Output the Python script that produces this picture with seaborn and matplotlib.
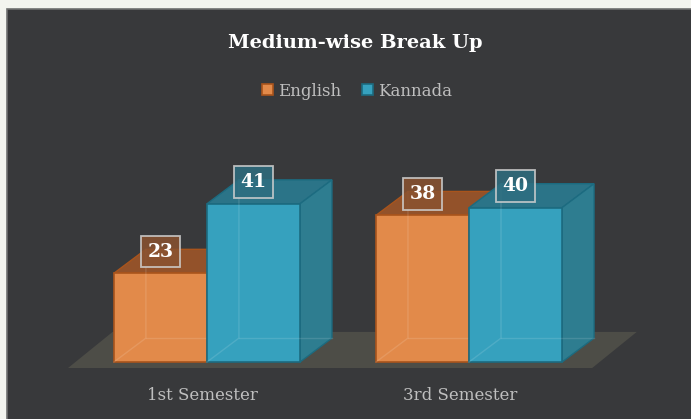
import numpy as np
import pandas as pd
import matplotlib
matplotlib.use("Agg")
import matplotlib.pyplot as plt
import matplotlib.transforms as mtrans
from matplotlib.patches import Polygon, Rectangle
import seaborn as sns

# data
semesters = ["1st Semester", "3rd Semester"]
english = [23, 38]
kannada = [41, 40]
mediums = ["English", "Kannada"]

df = pd.DataFrame({
    "semester": semesters * 2,
    "count": english + kannada,
    "medium": [mediums[0]] * 2 + [mediums[1]] * 2,
})

# colours: front, top, side, edge, label box
front_cols = ["#E28A4A", "#36A1BE"]
top_cols = ["#93522A", "#2B7488"]
side_cols = ["#B8652F", "#2E7D90"]
edge_cols = ["#A9541C", "#1C6B80"]
box_cols = ["#8A5230", "#2E6E80"]

bg = "#38393B"
fig = plt.figure(figsize=(6.91, 4.19), dpi=100, facecolor="#F3F4EF")
fig.patches.append(Rectangle((7 / 691, -0.01), 1.0, 1 - 9 / 419 + 0.01, transform=fig.transFigure,
                             facecolor=bg, edgecolor="#707070", lw=1.2, zorder=-5))

ax = fig.add_axes([40 / 691, 39 / 419, 640 / 691, 270 / 419])
ax.set_facecolor("none")
ax.set_zorder(2)

sns.barplot(data=df, x="semester", y="count", hue="medium", palette=front_cols,
            width=0.71, saturation=1, ax=ax, linewidth=1.2)

ax.set_xlim(-0.637, 1.805)
ax.set_ylim(-4.66, 65.3)

# 3d depth offsets in data units
dx, dy = 0.122, 6.2

# floor
fl, fr, fy0, fy1, fdx = -0.53, 1.47, -1.55, 7.8, 0.17
ax.add_patch(Polygon([(fl, fy0), (fr, fy0), (fr + fdx, fy1), (fl + fdx, fy1)],
                     closed=True, facecolor="#4D4D47", edgecolor="none", zorder=0.5))

for i, cont in enumerate(ax.containers):
    for bar in cont:
        x0, w, h = bar.get_x(), bar.get_width(), bar.get_height()
        bar.set_edgecolor(edge_cols[i])
        bar.set_zorder(2 + i * 2)
        top = Polygon([(x0, h), (x0 + w, h), (x0 + w + dx, h + dy), (x0 + dx, h + dy)],
                      closed=True, facecolor=top_cols[i], edgecolor=edge_cols[i], lw=1.0,
                      zorder=1.9 + i * 2)
        side = Polygon([(x0 + w, 0), (x0 + w + dx, dy), (x0 + w + dx, h + dy), (x0 + w, h)],
                       closed=True, facecolor=side_cols[i], edgecolor=edge_cols[i], lw=1.0,
                       zorder=1.9 + i * 2)
        ax.add_patch(top)
        ax.add_patch(side)
        # hidden back edges seen through the translucent box
        ax.plot([x0, x0 + dx, x0 + dx], [0, dy, h + dy], color="white", alpha=0.12,
                lw=1.0, zorder=2.05 + i * 2)
        ax.plot([x0 + dx, x0 + w + dx], [dy, dy], color="white", alpha=0.12,
                lw=1.0, zorder=2.05 + i * 2)
        ax.text(x0 + w / 2, h + dy * 0.9, f"{int(h)}", ha="center", va="center",
                color="white", fontsize=13.5, fontweight="bold", family="DejaVu Serif",
                zorder=10,
                bbox=dict(boxstyle="square,pad=0.36", facecolor=box_cols[i], alpha=0.85,
                          edgecolor="#D0D0D0", lw=1.3))

for s in ax.spines.values():
    s.set_visible(False)
ax.set_yticks([])
ax.set_xlabel("")
ax.set_ylabel("")
ax.tick_params(axis="x", length=0, pad=5, labelcolor="#BFBFBF", labelsize=12)
for t, off in zip(ax.get_xticklabels(), [-5, -9]):
    t.set_family("DejaVu Serif")
    t.set_transform(t.get_transform() + mtrans.ScaledTranslation(off / 100, 0, fig.dpi_scale_trans))

handles, labels = ax.get_legend_handles_labels()
for hnd, ec in zip(handles, edge_cols):
    hnd.set_edgecolor(ec)
ax.legend(handles, labels, loc="center", bbox_to_anchor=(357 / 691, 1 - 91 / 419),
          bbox_transform=fig.transFigure, ncol=2, frameon=False, handlelength=0.7,
          handleheight=0.7, handletextpad=0.3, columnspacing=1.2, labelcolor="#BFBFBF",
          prop={"family": "DejaVu Serif", "size": 12})

fig.text(355 / 691, 1 - 43 / 419, "Medium-wise Break Up", ha="center", va="center",
         color="white", fontsize=14, fontweight="bold", family="DejaVu Serif")

fig.savefig("out.png", dpi=100, facecolor=fig.get_facecolor())
